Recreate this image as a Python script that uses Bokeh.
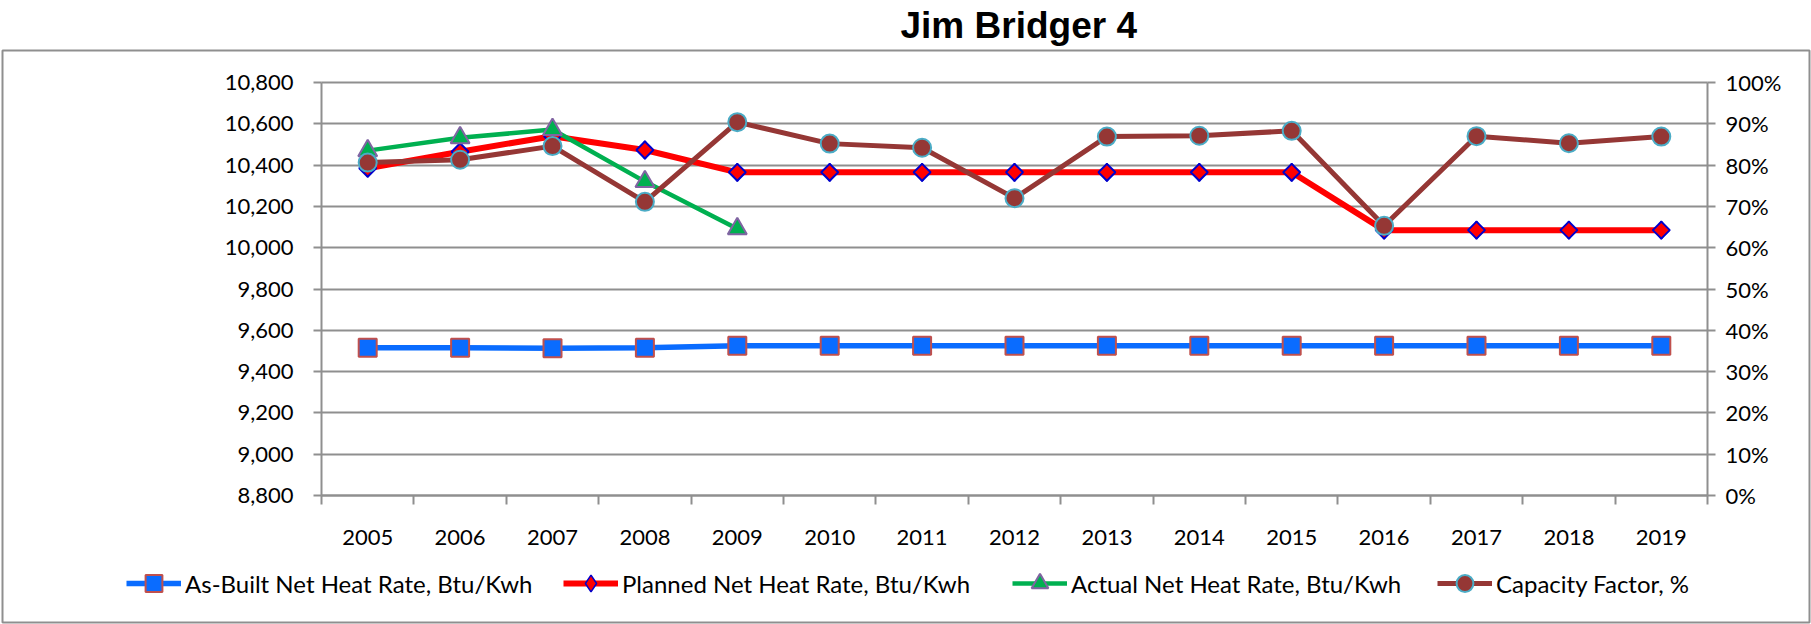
import math
from bokeh.plotting import figure
from bokeh.models import (Range1d, LinearAxis, FixedTicker, NumeralTickFormatter,
                          Legend, LegendItem, Grid)
from bokeh.embed import file_html
from bokeh.resources import INLINE

# ---------------- data ----------------
years = ["2005", "2006", "2007", "2008", "2009", "2010", "2011", "2012",
         "2013", "2014", "2015", "2016", "2017", "2018", "2019"]
as_built = [9515, 9515, 9513, 9515, 9525, 9525, 9525, 9525,
            9525, 9525, 9525, 9525, 9525, 9525, 9525]
planned = [10385, 10465, 10540, 10473, 10365, 10365, 10365, 10365,
           10365, 10365, 10365, 10085, 10085, 10085, 10085]
actual = [10470, 10532, 10572, 10320, 10092]
capacity = [0.806, 0.813, 0.846, 0.711, 0.904, 0.852, 0.842, 0.720,
            0.869, 0.871, 0.883, 0.653, 0.870, 0.853, 0.869]
left_ticks = [8800, 9000, 9200, 9400, 9600, 9800, 10000, 10200, 10400, 10600, 10800]
right_ticks = [0.0, 0.1, 0.2, 0.3, 0.4, 0.5, 0.6, 0.7, 0.8, 0.9, 1.0]
labels = ["As-Built Net Heat Rate, Btu/Kwh", "Planned Net Heat Rate, Btu/Kwh",
          "Actual Net Heat Rate, Btu/Kwh", "Capacity Factor, %"]
title = "Jim Bridger 4"

FONT = "Lato"
GRAY = "#8f8f8f"

# ---------------- layout (pixels) ----------------
W, H = 1811, 624
FR_L, FR_R, FR_T, FR_B = 2, 1809, 50, 622          # outer chart box (frame)
PA_L, PA_R, PA_T, PA_B = 321, 1707, 82, 495        # plot area inside box

x = list(range(len(years)))
xa = x[:len(actual)]
x0, x1 = -0.5, len(years) - 0.5
y0, y1 = left_ticks[0], left_ticks[-1]
c0, c1 = right_ticks[0], right_ticks[-1]

kx = (x1 - x0) / (PA_R - PA_L)
ky = (y1 - y0) / (PA_B - PA_T)
kc = (c1 - c0) / (PA_B - PA_T)
xr = Range1d(x0 - (PA_L - FR_L) * kx, x1 + (FR_R - PA_R) * kx)
yr = Range1d(y0 - (FR_B - PA_B) * ky, y1 + (PA_T - FR_T) * ky)
cr = Range1d(c0 - (FR_B - PA_B) * kc, c1 + (PA_T - FR_T) * kc)

p = figure(width=W, height=H, output_backend="svg", toolbar_location=None,
           x_range=xr, y_range=yr, x_axis_location=None, y_axis_location=None,
           min_border_left=FR_L, min_border_right=W - FR_R,
           min_border_top=FR_T, min_border_bottom=H - FR_B)
p.xgrid.visible = False
p.ygrid.visible = False
p.outline_line_color = GRAY
p.outline_line_width = 2
p.extra_y_ranges = {"cf": cr}

p.title.text = title
p.title.align = "left"
p.title.offset = 898
p.title.vertical_align = "top"
p.title.standoff = 6
p.title.text_font = "Liberation Sans"
p.title.text_font_style = "bold"
p.title.text_font_size = "37px"
p.title.text_color = "black"

xaxis = LinearAxis(fixed_location=y0, bounds=(x0, x1),
                   ticker=FixedTicker(ticks=x, minor_ticks=[i - 0.5 for i in range(len(years) + 1)]),
                   major_label_overrides={i: yv for i, yv in enumerate(years)},
                   major_tick_line_color=None, major_tick_out=0, major_tick_in=0,
                   minor_tick_out=9, minor_tick_in=0, minor_tick_line_color=GRAY, minor_tick_line_width=2,
                   axis_line_color=GRAY, axis_line_width=2, major_label_standoff=25,
                   major_label_text_font=FONT, major_label_text_font_size="22px",
                   major_label_text_color="black")
p.add_layout(xaxis, "below")

yaxis = LinearAxis(fixed_location=x0, bounds=(y0, y1),
                   ticker=FixedTicker(ticks=left_ticks), formatter=NumeralTickFormatter(format="0,0"),
                   major_tick_out=8, major_tick_in=0, major_tick_line_color=GRAY, major_tick_line_width=2,
                   minor_tick_line_color=None, axis_line_color=GRAY, axis_line_width=2,
                   major_label_standoff=20, major_label_text_font=FONT,
                   major_label_text_font_size="22px", major_label_text_color="black")
p.add_layout(yaxis, "left")

raxis = LinearAxis(fixed_location=x1, bounds=(c0, c1), y_range_name="cf",
                   ticker=FixedTicker(ticks=right_ticks), formatter=NumeralTickFormatter(format="0%"),
                   major_tick_out=8, major_tick_in=0, major_tick_line_color=GRAY, major_tick_line_width=2,
                   minor_tick_line_color=None, axis_line_color=GRAY, axis_line_width=2,
                   major_label_standoff=10, major_label_text_font=FONT,
                   major_label_text_font_size="22px", major_label_text_color="black")
p.add_layout(raxis, "right")

p.add_layout(Grid(dimension=1, ticker=FixedTicker(ticks=left_ticks), bounds=(y0, y1),
                  cross_bounds=(x0, x1), grid_line_color=GRAY, grid_line_width=2))

l1 = p.line(x, as_built, line_color="#0a6cff", line_width=5.5)
s1 = p.scatter(x, as_built, marker="square", size=18, fill_color="#0a6cff",
               line_color="#c0504d", line_width=2)
l2 = p.line(x, planned, line_color="#ff0000", line_width=6)
# diamond glyph (used as legend swatch), covered in the plot by the rotated squares
d2 = p.scatter(x, planned, marker="diamond", size=18, fill_color="#ff0000",
               line_color="#0000cc", line_width=1.5)
s2 = p.scatter(x, planned, marker="square", angle=math.pi / 4, size=12, fill_color="#ff0000",
               line_color="#0000cc", line_width=2)
l3 = p.line(xa, actual, line_color="#00b050", line_width=4.5)
s3 = p.scatter(xa, actual, marker="triangle", size=19, fill_color="#00b050",
               line_color="#8064a2", line_width=2)
l4 = p.line(x, capacity, y_range_name="cf", line_color="#953735", line_width=5)
s4 = p.scatter(x, capacity, y_range_name="cf", marker="circle", size=18, fill_color="#953735",
               line_color="#4bacc6", line_width=2)

# one legend per entry, placed where the reference puts each entry
entries = [(labels[0], [l1, s1], 124), (labels[1], [l2, d2], 561),
           (labels[2], [l3, s3], 1010), (labels[3], [l4, s4], 1435)]
for lab, rs, lx in entries:
    lg = Legend(items=[LegendItem(label=lab, renderers=rs)],
                orientation="horizontal", location=(lx, 18),
                glyph_width=55, glyph_height=42, label_standoff=4, spacing=0,
                padding=0, margin=0, border_line_color=None, background_fill_alpha=0,
                label_text_font=FONT, label_text_font_size="24px", label_text_color="black")
    p.add_layout(lg, "center")

open("out.html", "w").write(file_html(p, INLINE))
